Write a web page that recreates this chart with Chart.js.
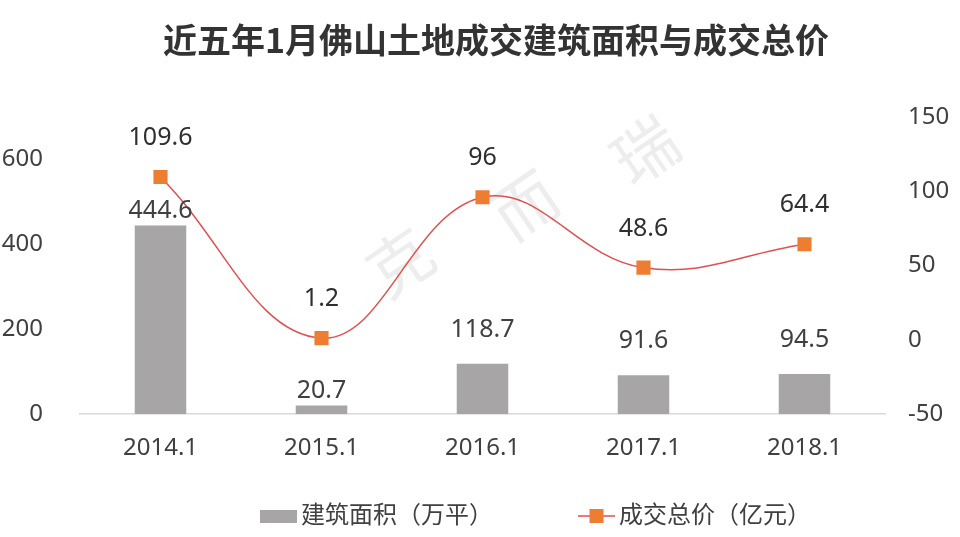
<!DOCTYPE html>
<html lang="zh-CN">
<head>
    <meta charset="UTF-8">
    <title>近五年1月佛山土地成交建筑面积与成交总价</title>
    <style>
        body {
            margin: 0;
            background: #fff;
        }
        .wrap {
            width: 960px;
            height: 537px;
            position: relative;
        }
    </style>
</head>
<body>
<div class="wrap">
    <canvas id="landChart"></canvas>
</div>

<script src="https://cdn.jsdelivr.net/npm/chart.js"></script>
<script>
    const years = ['2014.1', '2015.1', '2016.1', '2017.1', '2018.1'];
    const areaValues = [444.6, 20.7, 118.7, 91.6, 94.5];   // 建筑面积（万平）
    const priceValues = [109.6, 1.2, 96, 48.6, 64.4];     // 成交总价（亿元）
    const leftTicks = [0, 200, 400, 600];
    const rightTicks = [-50, 0, 50, 100, 150];

    const FONT = '"Noto Sans", "Noto Sans CJK SC", sans-serif';
    const BAR_COLOR = '#A7A5A6';
    const LINE_COLOR = '#E0504E';
    const MARKER_COLOR = '#ED7D31';
    const TEXT_COLOR = '#404040';

    // value labels above bars and markers, plus title, legend and watermark
    const extras = {
        id: 'extras',
        beforeDatasetsDraw(chart) {
            const ctx = chart.ctx;
            ctx.save();
            ctx.fillStyle = 'rgba(190, 190, 190, 0.28)';
            ctx.font = '64px "Noto Sans CJK SC", sans-serif';
            ctx.textAlign = 'center';
            ctx.textBaseline = 'middle';
            const marks = [['克', 400, 262], ['而', 525, 205], ['瑞', 645, 150]];
            marks.forEach(([t, x, y]) => {
                ctx.save();
                ctx.translate(x, y);
                ctx.rotate(-0.6);
                ctx.fillText(t, 0, 0);
                ctx.restore();
            });
            ctx.restore();
        },
        afterDatasetsDraw(chart) {
            const ctx = chart.ctx;
            ctx.save();
            ctx.textAlign = 'center';
            ctx.textBaseline = 'middle';
            ctx.font = '25px ' + FONT;

            const barGap = [15, 15, 34, 34, 34];
            chart.getDatasetMeta(1).data.forEach((bar, i) => {
                ctx.fillStyle = TEXT_COLOR;
                ctx.fillText(String(areaValues[i]), bar.x, bar.y - barGap[i]);
            });
            chart.getDatasetMeta(0).data.forEach((pt, i) => {
                ctx.fillStyle = '#2f2f2f';
                ctx.fillText(String(priceValues[i]), pt.x, pt.y - 39);
            });
            ctx.restore();
        },
        afterDraw(chart) {
            const ctx = chart.ctx;
            ctx.save();

            // title
            ctx.fillStyle = '#333';
            ctx.font = 'bold 34px "Noto Sans CJK SC", sans-serif';
            ctx.textAlign = 'center';
            ctx.textBaseline = 'middle';
            ctx.fillText('近五年1月佛山土地成交建筑面积与成交总价', 496, 40);

            // legend
            const ly = 516;
            let x = chart.width / 2 - 220;
            ctx.font = '24px ' + FONT;
            ctx.textAlign = 'left';
            ctx.fillStyle = BAR_COLOR;
            ctx.fillRect(x, ly - 6, 37, 13);
            ctx.fillStyle = TEXT_COLOR;
            ctx.fillText('建筑面积（万平）', x + 41, ly);

            x = chart.width / 2 + 98;
            ctx.strokeStyle = LINE_COLOR;
            ctx.lineWidth = 1.5;
            ctx.beginPath();
            ctx.moveTo(x, ly);
            ctx.lineTo(x + 37, ly);
            ctx.stroke();
            ctx.fillStyle = MARKER_COLOR;
            ctx.fillRect(x + 11.5, ly - 7, 14, 14);
            ctx.fillStyle = TEXT_COLOR;
            ctx.fillText('成交总价（亿元）', x + 41, ly);
            ctx.restore();
        }
    };

    const ctx = document.getElementById('landChart').getContext('2d');
    new Chart(ctx, {
        data: {
            labels: years,
            datasets: [{
                type: 'line',
                label: '成交总价（亿元）',
                data: priceValues,
                yAxisID: 'yRight',
                borderColor: LINE_COLOR,
                borderWidth: 1.5,
                tension: 0.4,
                pointStyle: 'rect',
                pointRadius: 10,
                pointBorderWidth: 0,
                pointBackgroundColor: MARKER_COLOR,
                pointBorderColor: MARKER_COLOR,
                order: 0
            }, {
                type: 'bar',
                label: '建筑面积（万平）',
                data: areaValues,
                yAxisID: 'yLeft',
                backgroundColor: BAR_COLOR,
                categoryPercentage: 1,
                barPercentage: 0.32,
                order: 1
            }]
        },
        options: {
            responsive: true,
            maintainAspectRatio: false,
            animation: false,
            layout: {
                padding: { top: 117, bottom: 54, left: 0, right: 0 }
            },
            plugins: {
                legend: { display: false },
                title: { display: false },
                tooltip: { enabled: false }
            },
            scales: {
                x: {
                    offset: true,
                    grid: { display: false, drawTicks: false },
                    border: { display: true, color: '#D9D9D9', width: 1.5 },
                    ticks: {
                        padding: 20,
                        color: TEXT_COLOR,
                        font: { family: FONT, size: 24 }
                    }
                },
                yLeft: {
                    position: 'left',
                    min: 0,
                    max: 700,
                    grid: { display: false, drawTicks: false },
                    border: { display: false },
                    afterFit(scale) { scale.width = 80; },
                    afterBuildTicks(scale) {
                        scale.ticks = leftTicks.map(v => ({ value: v }));
                    },
                    ticks: {
                        padding: 37,
                        color: TEXT_COLOR,
                        font: { family: FONT, size: 24 }
                    }
                },
                yRight: {
                    position: 'right',
                    min: -50,
                    max: 150,
                    grid: { display: false, drawTicks: false },
                    border: { display: false },
                    afterFit(scale) { scale.width = 75; },
                    afterBuildTicks(scale) {
                        scale.ticks = rightTicks.map(v => ({ value: v }));
                    },
                    ticks: {
                        padding: 23,
                        color: TEXT_COLOR,
                        font: { family: FONT, size: 24 }
                    }
                }
            }
        },
        plugins: [extras]
    });
</script>
</body>
</html>
